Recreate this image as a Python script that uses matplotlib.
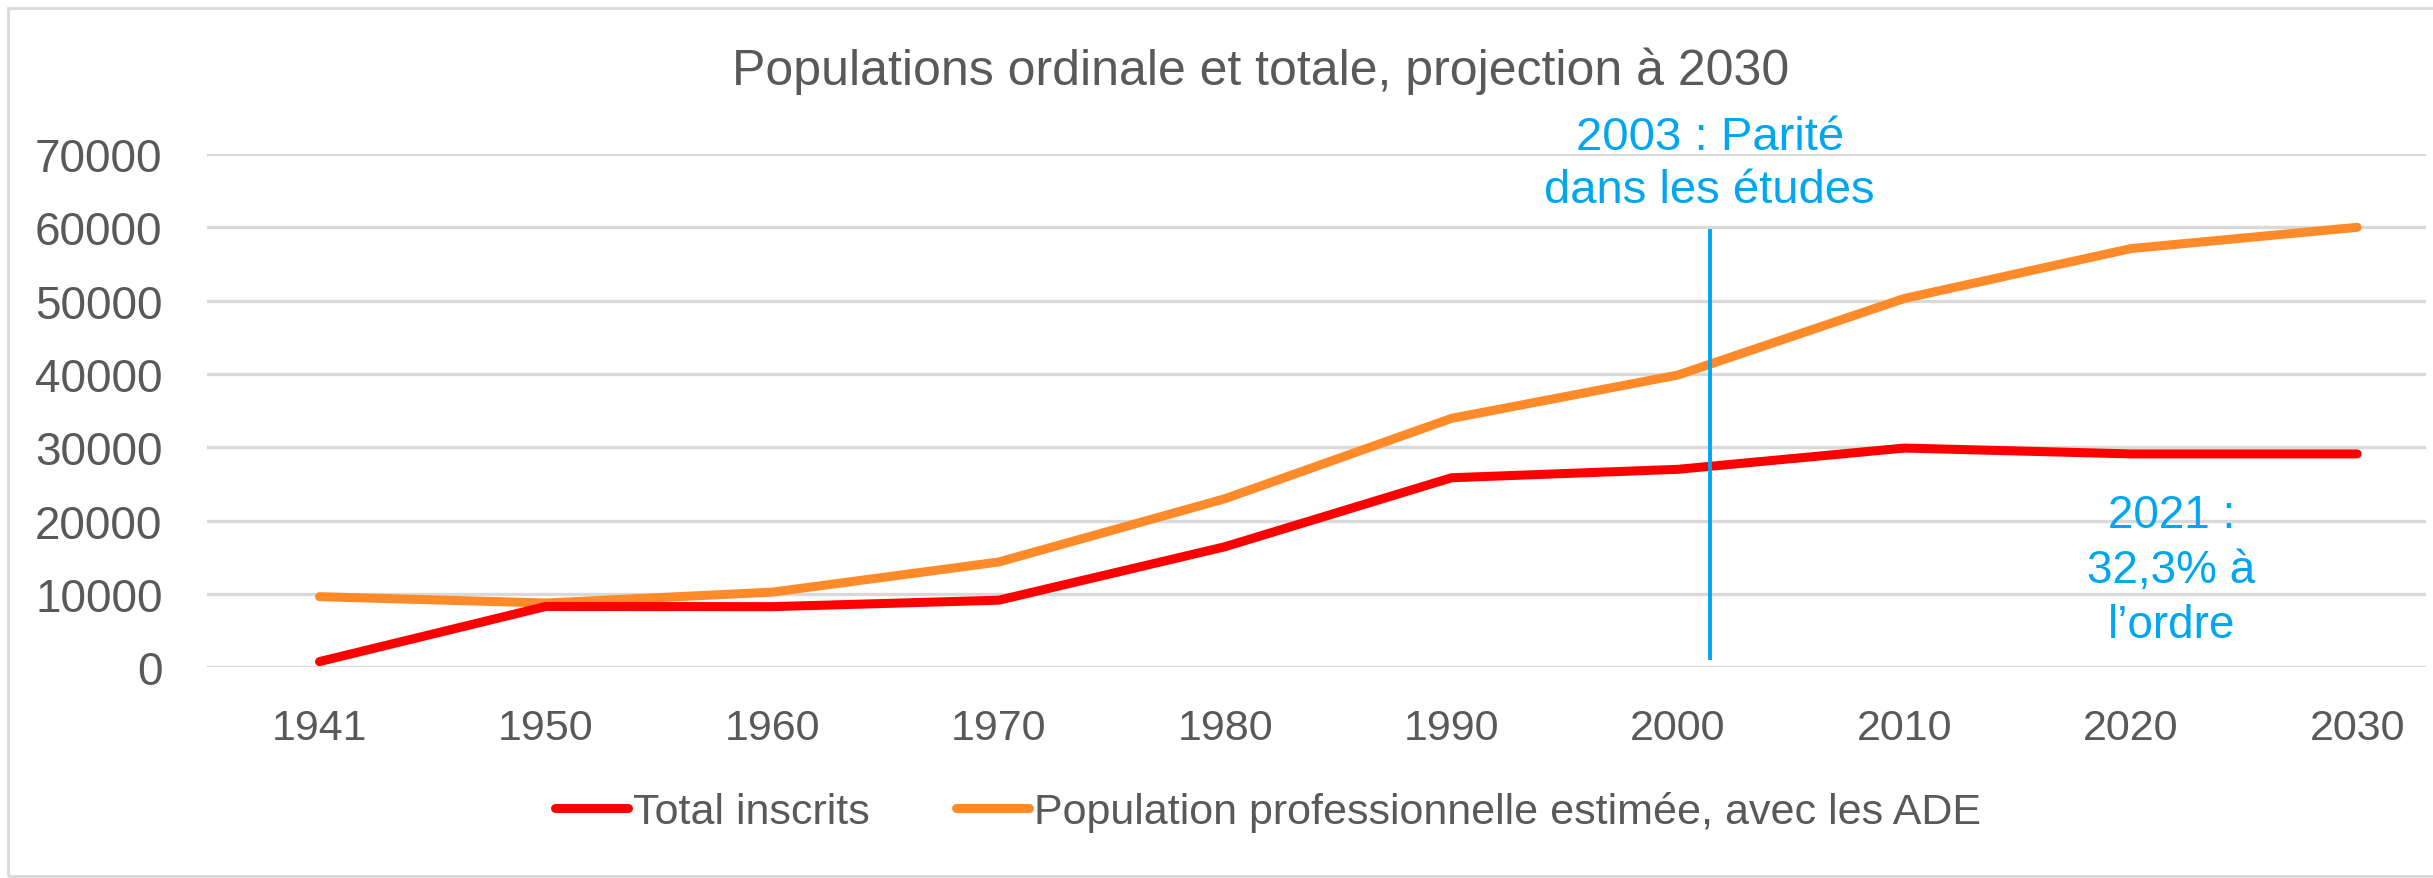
import numpy as np
import matplotlib
matplotlib.use("Agg")
import matplotlib.pyplot as plt
from matplotlib.patches import Rectangle

# data
years = ["1941", "1950", "1960", "1970", "1980", "1990", "2000", "2010", "2020", "2030"]
total_inscrits = [780, 8300, 8270, 9150, 16450, 25850, 27000, 29900, 29100, 29100]
population_pro = [9630, 8770, 10250, 14360, 23000, 33950, 39860, 50300, 57100, 60000]

title = "Populations ordinale et totale, projection à 2030"
label_total = "Total inscrits"
label_pro = "Population professionnelle estimée, avec les ADE"
note_parity = "2003 : Parité\ndans les études"
note_2021 = "2021 :\n32,3% à\nl’ordre"
parity_pos = 6.14          # category position of the 2003 marker line
parity_span = (1000, 59800)
note_2021_pos = (8.18, 13270)

grey = "#595959"
blue = "#00A6F0"
font = ["Liberation Sans", "DejaVu Sans"]
plt.rcParams["font.family"] = font

W, H = 2433, 879
fig = plt.figure(figsize=(W / 100, H / 100), dpi=100)

# light border round the whole chart
fig.patches.append(Rectangle((8 / W, 1 - 877 / H), (W + 20) / W, (877 - 9) / H,
                             transform=fig.transFigure, fill=False,
                             edgecolor="#D9D9D9", lw=2, clip_on=False))

ax = fig.add_axes([207 / W, 1 - 668.3 / H, (2426 - 207) / W, (668.3 - 155) / H])
x = np.arange(len(years))

ax.plot(x, total_inscrits, color="#FF0000", lw=6.5, solid_capstyle="round",
        label=label_total, clip_on=False, zorder=3)
ax.plot(x, population_pro, color="#FF8A2A", lw=6.5, solid_capstyle="round",
        label=label_pro, clip_on=False, zorder=2)

ax.vlines(parity_pos, *parity_span, color=blue, lw=2.8, zorder=4)

ax.set_xlim(-0.497, 9.304)
ax.set_ylim(0, 70000)
ax.set_yticks(np.arange(0, 70001, 10000))
ax.set_xticks(x)
ax.set_xticklabels(years)
for s in ax.spines.values():
    s.set_visible(False)
ax.grid(axis="y", color="#D9D9D9", lw=2.4)
ax.set_axisbelow(True)
ax.tick_params(axis="both", length=0, colors=grey)
ax.tick_params(axis="y", pad=32, labelsize=33)
ax.tick_params(axis="x", pad=29, labelsize=31)

ax.text(parity_pos, 68700, note_parity, ha="center", va="center", color=blue,
        fontsize=34, linespacing=1.25)
ax.text(note_2021_pos[0], note_2021_pos[1], note_2021, ha="center", va="center",
        color=blue, fontsize=33, linespacing=1.32)

fig.text(1261 / W, 1 - 85 / H, title, ha="center", va="baseline", color=grey,
         fontsize=36)

leg = fig.legend(loc="center", bbox_to_anchor=(1268 / W, 1 - 813 / H), ncol=2,
                 frameon=False, handlelength=1.7, handletextpad=0.12,
                 columnspacing=2.0, prop={"size": 31})
for line in leg.get_lines():
    line.set_linewidth(6.5)
for t in leg.get_texts():
    t.set_color(grey)

fig.savefig("out.png", dpi=100)
